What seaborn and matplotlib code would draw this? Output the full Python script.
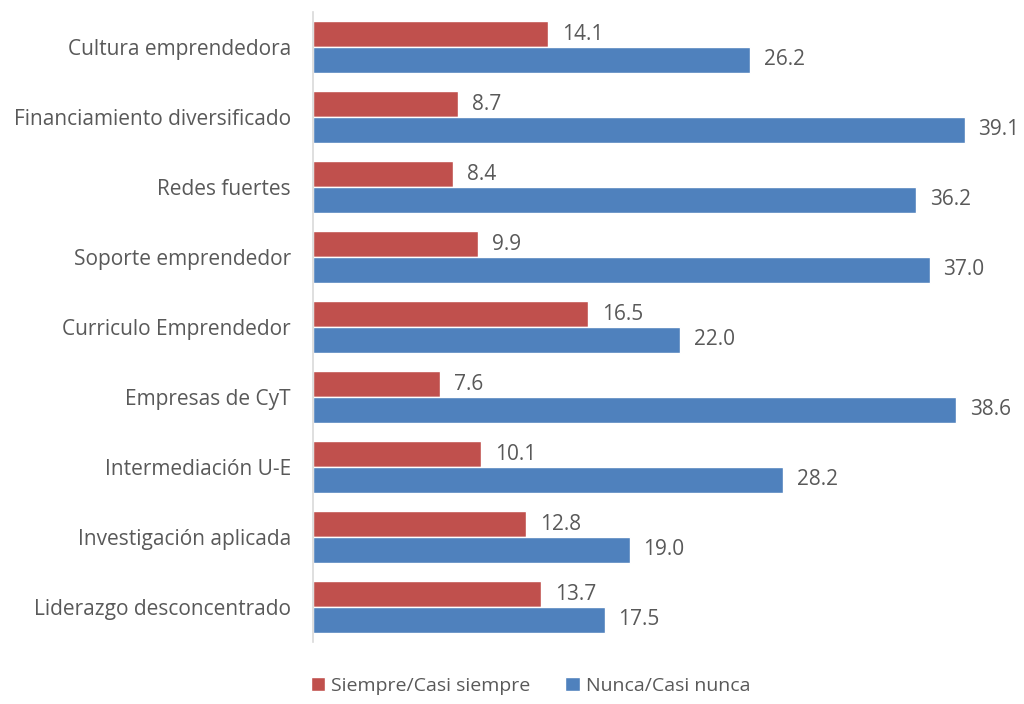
import pandas as pd
import matplotlib.pyplot as plt
import seaborn as sns

# ── Data ──────────────────────────────────────────────────────
categories = [
    "Cultura emprendedora",
    "Financiamiento diversificado",
    "Redes fuertes",
    "Soporte emprendedor",
    "Curriculo Emprendedor",
    "Empresas de CyT",
    "Intermediación U-E",
    "Investigación aplicada",
    "Liderazgo desconcentrado",
]
siempre = [14.1, 8.7, 8.4, 9.9, 16.5, 7.6, 10.1, 12.8, 13.7]
nunca = [26.2, 39.1, 36.2, 37.0, 22.0, 38.6, 28.2, 19.0, 17.5]
series = ["Siempre/Casi siempre", "Nunca/Casi nunca"]

RED = "#C0504D"
BLUE = "#4F81BD"
TEXT = "#595959"

df = pd.DataFrame({
    "categoria": categories * 2,
    "serie": [series[0]] * len(categories) + [series[1]] * len(categories),
    "valor": siempre + nunca,
})

# ── Setup ─────────────────────────────────────────────────────
sns.set_theme(style="white")
plt.rcParams["font.family"] = ["Open Sans", "DejaVu Sans"]

fig = plt.figure(figsize=(10.24, 7.04), dpi=100)
ax = fig.add_axes([313 / 1024, 1 - 642 / 704, 700 / 1024, 630 / 704])

sns.barplot(data=df, x="valor", y="categoria", hue="serie",
            hue_order=series, order=categories,
            palette=[RED, BLUE], width=0.74, orient="h",
            saturation=1, ax=ax)

for cont in ax.containers:
    ax.bar_label(cont, fmt="%.1f", padding=10, fontsize=15,
                 color=TEXT, clip_on=False)

ax.set_xlim(0, 42)
ax.set_ylim(len(categories) - 0.5, -0.5)
ax.set_xlabel("")
ax.set_ylabel("")
ax.set_xticks([])
ax.tick_params(axis="y", length=0, pad=16, labelsize=15, labelcolor=TEXT)
for s in ["top", "right", "bottom"]:
    ax.spines[s].set_visible(False)
ax.spines["left"].set_color("#D9D9D9")
ax.spines["left"].set_linewidth(1.2)

ax.get_legend().remove()
handles, labels = ax.get_legend_handles_labels()
fig.legend(handles[:2], labels[:2], loc="lower center",
           bbox_to_anchor=(0.518, -0.012), ncol=2, frameon=False,
           fontsize=14, handlelength=0.75, handleheight=0.75,
           handletextpad=0.3, columnspacing=1.8, labelcolor=TEXT)

plt.savefig("out.png", dpi=100)
plt.close()
